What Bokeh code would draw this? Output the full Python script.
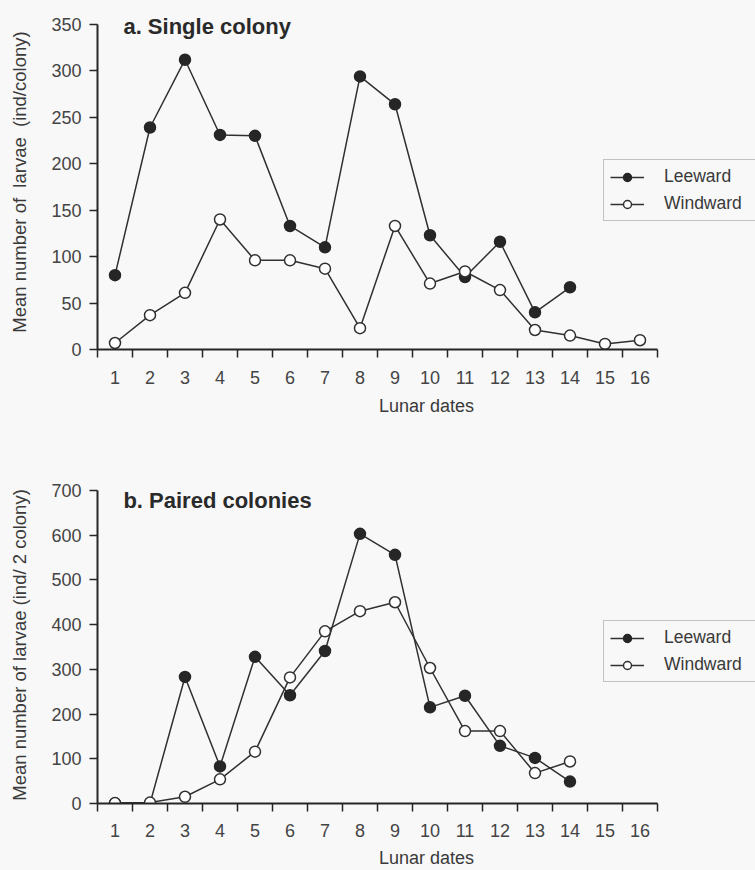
from bokeh.plotting import figure
from bokeh.models import Range1d, FixedTicker, Label, Legend, LegendItem, ColumnDataSource
from bokeh.layouts import column
from bokeh.embed import file_html
from bokeh.resources import INLINE

# ---------------- data ----------------
dates = list(range(1, 17))
date_labels = [str(d) for d in dates]

# a. Single colony (ind/colony)
a_leeward_dates = list(range(1, 15))
a_leeward = [80, 239, 312, 231, 230, 133, 110, 294, 264, 123, 78, 116, 40, 67]
a_windward_dates = list(range(1, 17))
a_windward = [7, 37, 61, 140, 96, 96, 87, 23, 133, 71, 84, 64, 21, 15, 6, 10]

# b. Paired colonies (ind/ 2 colony)
b_leeward_dates = list(range(1, 15))
b_leeward = [0, 0, 283, 83, 328, 242, 341, 603, 556, 215, 241, 129, 102, 49]
b_windward_dates = list(range(1, 15))
b_windward = [1, 2, 15, 54, 116, 282, 385, 430, 450, 303, 162, 162, 68, 94]

series_names = ["Leeward", "Windward"]

FONT = "Liberation Sans"
BG = "#f8f8f8"
INK = "#262626"
LINE = "#303030"

W = 755
LEFT = 97
PLOT_W = 560          # width of the 0.5..16.5 axis in px


def make_panel(title, ylabel, y_max, y_step, lee_x, lee_y, win_x, win_y,
               height, top_border, bottom_border, axis_len_px, frame_h,
               legend_loc, title_y, tick_standoff, label_standoff):
    x0, x1 = dates[0] - 0.5, dates[-1] + 0.5
    x_end = x0 + (x1 - x0) * (W - LEFT) / PLOT_W
    y_end = y_max * frame_h / axis_len_px
    p = figure(width=W, height=height,
               x_range=Range1d(x0, x_end),
               y_range=Range1d(0, y_end),
               output_backend="svg", toolbar_location=None,
               min_border_left=LEFT, min_border_right=0,
               min_border_top=top_border, min_border_bottom=bottom_border)
    p.background_fill_color = BG
    p.border_fill_color = BG
    p.outline_line_color = None
    p.xgrid.visible = False
    p.ygrid.visible = False

    # x axis: labels at dates, ticks between them
    xa = p.xaxis[0]
    xa.bounds = (x0, x1)
    xa.ticker = FixedTicker(ticks=dates,
                            minor_ticks=[d - 0.5 for d in dates] + [x1])
    xa.major_label_overrides = {d: s for d, s in zip(dates, date_labels)}
    xa.major_tick_line_color = None
    xa.major_tick_out = 8
    xa.major_tick_in = 0
    xa.minor_tick_line_color = INK
    xa.minor_tick_line_width = 1.5
    xa.minor_tick_out = 8
    xa.minor_tick_in = 0
    xa.axis_line_color = INK
    xa.axis_line_width = 2
    xa.major_label_text_font = FONT
    xa.major_label_text_font_size = "18px"
    xa.major_label_text_color = "#444444"
    xa.major_label_standoff = tick_standoff
    xa.axis_label = "Lunar dates"
    xa.axis_label_text_font = FONT
    xa.axis_label_text_font_size = "18px"
    xa.axis_label_text_font_style = "normal"
    xa.axis_label_text_color = "#3a3a3a"
    xa.axis_label_standoff = label_standoff

    ya = p.yaxis[0]
    ya.bounds = (0, y_max)
    ya.ticker = FixedTicker(ticks=list(range(0, y_max + 1, y_step)))
    ya.minor_tick_line_color = None
    ya.major_tick_line_color = INK
    ya.major_tick_line_width = 1.5
    ya.major_tick_out = 8
    ya.major_tick_in = 0
    ya.axis_line_color = INK
    ya.axis_line_width = 2
    ya.major_label_text_font = FONT
    ya.major_label_text_font_size = "18px"
    ya.major_label_text_color = "#444444"
    ya.major_label_standoff = 8
    ya.axis_label = ylabel
    ya.axis_label_text_font = FONT
    ya.axis_label_text_font_size = "18.5px"
    ya.axis_label_text_font_style = "normal"
    ya.axis_label_text_color = "#3a3a3a"
    ya.axis_label_standoff = 18

    lee_src = ColumnDataSource(dict(x=lee_x, y=lee_y))
    win_src = ColumnDataSource(dict(x=win_x, y=win_y))

    l1 = p.line("x", "y", source=lee_src, line_color=LINE, line_width=1.5)
    s1 = p.scatter("x", "y", source=lee_src, marker="circle", size=11,
                   fill_color="#262626", line_color="#262626", line_width=1.5)
    l2 = p.line("x", "y", source=win_src, line_color=LINE, line_width=1.5)
    s2 = p.scatter("x", "y", source=win_src, marker="circle", size=11,
                   fill_color="#ffffff", line_color=LINE, line_width=1.5)

    legend = Legend(items=[LegendItem(label=series_names[0], renderers=[l1, s1]),
                           LegendItem(label=series_names[1], renderers=[l2, s2])],
                    location=legend_loc, orientation="vertical",
                    label_text_font=FONT, label_text_font_size="17.5px",
                    label_text_color="#3a3a3a",
                    glyph_width=34, glyph_height=20, label_height=20,
                    label_width=89, label_standoff=20, spacing=6, padding=6,
                    margin=0,
                    border_line_color="#8a8a8a", border_line_width=1,
                    background_fill_alpha=0)
    p.add_layout(legend)

    p.add_layout(Label(x=1.24, y=title_y, x_units="data", y_units="data",
                       text=title, text_font=FONT, text_font_style="bold",
                       text_font_size="22px", text_color="#2a2a2a",
                       text_baseline="middle", text_align="left"))
    return p


pa = make_panel("a. Single colony",
                "Mean number of\u00a0 larvae\u00a0 (ind/colony)", 350, 50,
                a_leeward_dates, a_leeward, a_windward_dates, a_windward,
                height=418, top_border=14, bottom_border=66,
                axis_len_px=328, frame_h=338,
                legend_loc=(506, 128), title_y=348,
                tick_standoff=13, label_standoff=9)

pb = make_panel("b. Paired colonies",
                "Mean number of larvae (ind/ 2 colony)", 700, 100,
                b_leeward_dates, b_leeward, b_windward_dates, b_windward,
                height=452, top_border=68, bottom_border=64,
                axis_len_px=316, frame_h=320,
                legend_loc=(506, 121), title_y=677,
                tick_standoff=12, label_standoff=8)

layout = column(pa, pb, spacing=0)
layout.styles = {"background-color": BG}

open("out.html", "w").write(file_html(layout, INLINE))
